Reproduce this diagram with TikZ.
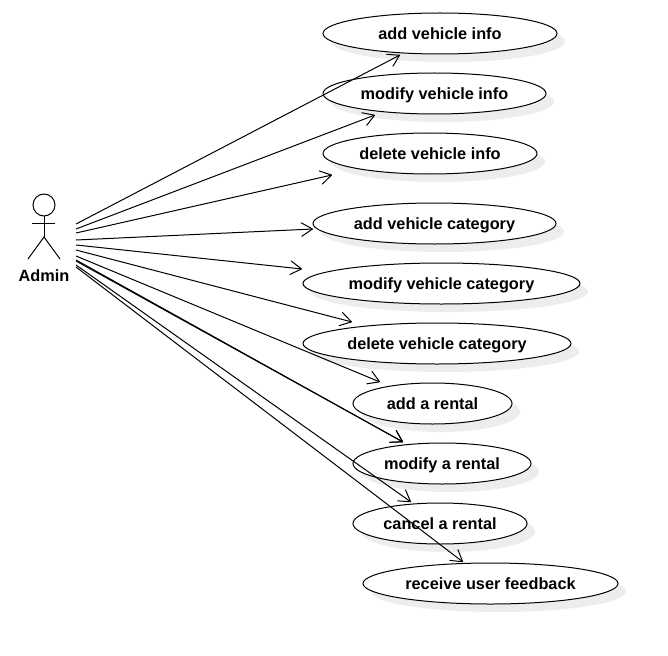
\documentclass[tikz,border=0pt]{standalone}
\usepackage{fontspec}
\setmainfont{Liberation Sans}
\usetikzlibrary{arrows.meta,shapes.geometric}
\tikzset{
  x=1pt,y=-1pt,
  usecase/.style={ellipse,draw=black,fill=white,line width=1pt,inner sep=0pt,text=black},
  shade/.style={fill=black!7,draw=none},
  assoc/.style={draw=black,line width=1pt,-{Straight Barb[length=11pt,width=13.5pt,line width=1pt,round]}},
  stick/.style={draw=black,line width=1pt},
  label/.style={font=\fontsize{16.3}{18}\selectfont\bfseries,inner sep=0pt,anchor=base},
}
\newcommand{\casenode}[7]{% name, xmin, xmax, ymin, ymax, text
  \fill[shade] ({(#2+#3)/2+8},{(#4+#5)/2+8}) ellipse ({(#3-#2)/2} and {(#5-#4)/2});
  \node[usecase,minimum width={(#3-#2)*1pt},minimum height={(#5-#4)*1pt}] (#1) at ({(#2+#3)/2},{(#4+#5)/2}) {};
  \node[label] (#1t) at (#7,{(#4+#5)/2+5.9}) {#6};
}
\begin{document}
\begin{tikzpicture}
\useasboundingbox (0,0) rectangle (668,655);
\fill[white] (0,0) rectangle (668,655);
\casenode{c1}{323}{557}{13}{54}{add vehicle info}{440}
\casenode{c2}{323}{546}{73}{114}{modify vehicle info}{434.5}
\casenode{c3}{323}{537}{133}{174}{delete vehicle info}{430}
\casenode{c4}{313}{556}{203}{244}{add vehicle category}{434.5}
\casenode{c5}{303}{580}{263}{304}{modify vehicle category}{441.5}
\casenode{c6}{303}{571}{323}{364}{delete vehicle category}{437}
\casenode{c7}{353}{512}{383}{424}{add a rental}{432.5}
\casenode{c8}{353}{531}{443}{484}{modify a rental}{442}
\casenode{c9}{353}{527}{503}{544}{cancel a rental}{440}
\casenode{c10}{363}{618}{563}{604}{receive user feedback}{490.5}
% actor
\node[circle,draw=black,line width=1pt,minimum size=22pt,inner sep=0pt] (head) at (44,205) {};
\coordinate (neck) at (44,216);
\coordinate (hip) at (44,237);
\coordinate (armL) at (32,223);
\coordinate (armR) at (55,223);
\coordinate (legL) at (28,259);
\coordinate (legR) at (60,259);
\draw[stick] (neck) -- (hip);
\draw[stick] (armL) -- (armR);
\draw[stick] (legL) -- (hip) -- (legR);
\node[label] (admin) at (44,281) {Admin};
% connector ends
\foreach \n/\y in {s1/224,s2/229,s3/233,s4/240,s5/245,s6/250,s7/256,s8/260,s8b/261,s9/265,s10/267}
  \coordinate (\n) at (76,\y);
\foreach \n/\x/\y in {e1/400/55,e2/375/115,e3/332/175,e4/313/229,e5/302/269,e6/352/322,e7/380/382,e8/403/442,e9/411/502,e10/463/562}
  \coordinate (\n) at (\x,\y);
\draw[assoc] (s1) -- (e1);
\draw[assoc] (s2) -- (e2);
\draw[assoc] (s3) -- (e3);
\draw[assoc] (s4) -- (e4);
\draw[assoc] (s5) -- (e5);
\draw[assoc] (s6) -- (e6);
\draw[assoc] (s7) -- (e7);
\draw[assoc] (s8) -- (e8);
\draw[assoc] (s8b) -- (e8);
\draw[assoc] (s9) -- (e9);
\draw[assoc] (s10) -- (e10);
\end{tikzpicture}
\end{document}
